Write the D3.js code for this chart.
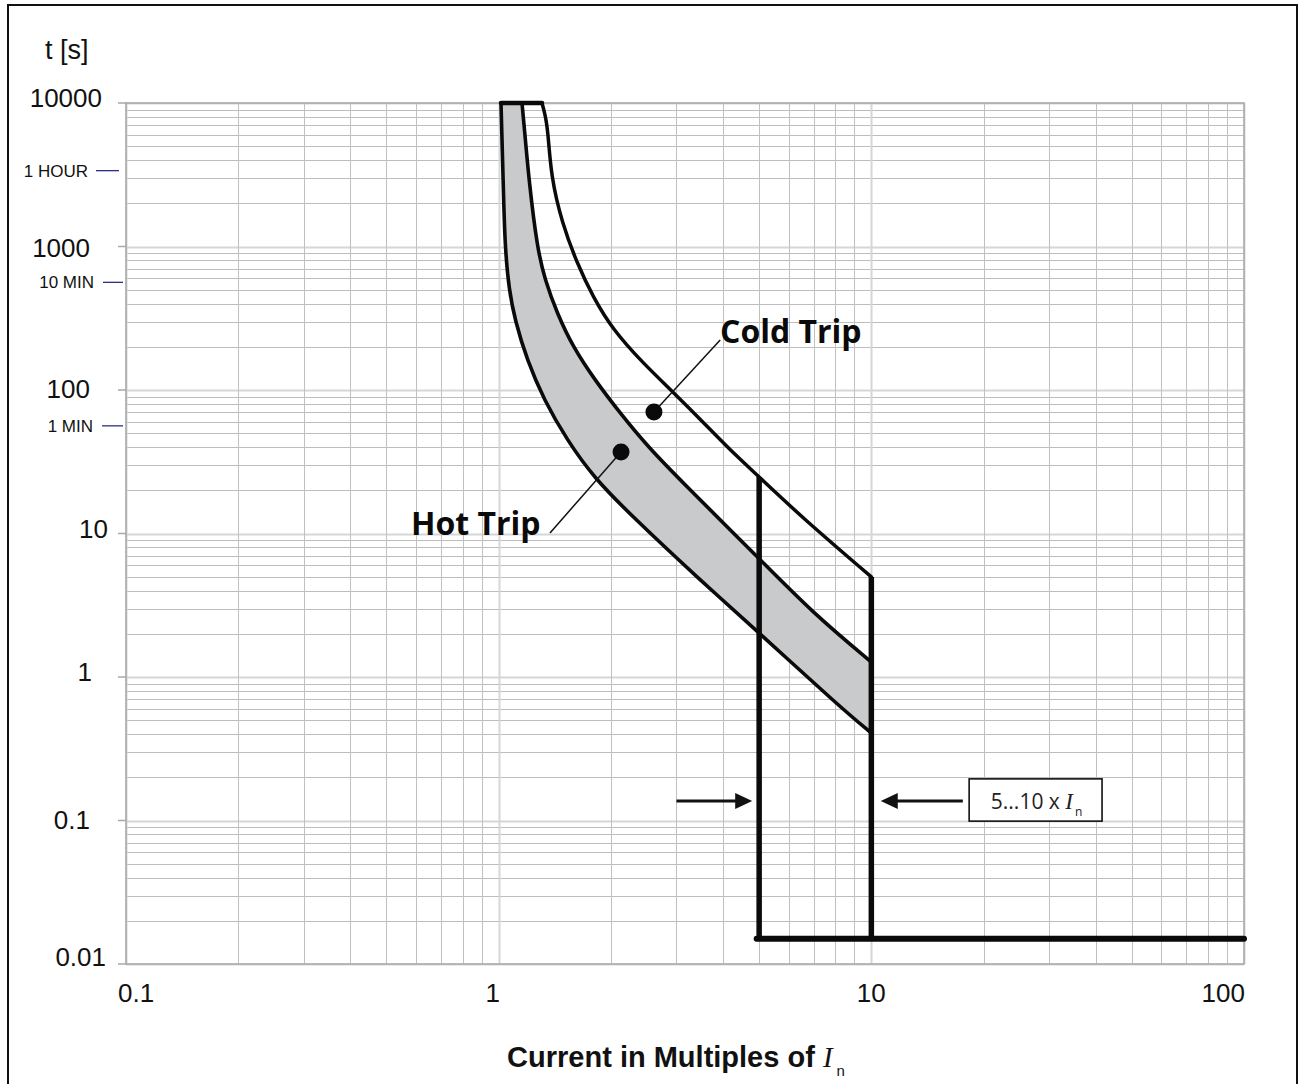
<!DOCTYPE html>
<html>
<head>
<meta charset="utf-8">
<script src="https://cdn.jsdelivr.net/npm/d3@7"></script>
<style>
  html, body { margin: 0; padding: 0; background: #fff; }
  svg { display: block; }
</style>
</head>
<body>
<svg id="chart" width="1302" height="1084"></svg>
<script>
// ---------------- DATA ----------------
const xTickValues = [0.1, 1, 10, 100];
const xTickLabels = ["0.1", "1", "10", "100"];
const yTickValues = [10000, 1000, 100, 10, 1, 0.1, 0.01];
const yTickLabels = ["10000", "1000", "100", "10", "1", "0.1", "0.01"];
const timeMarkValues = [3600, 600, 60];
const timeMarkLabels = ["1 HOUR", "10 MIN", "1 MIN"];

// Hot trip – lower (left) boundary of the grey band  [multiple of In, seconds]
const hotLowerX = [1.0145, 1.022, 1.030, 1.040, 1.066, 1.106, 1.191, 1.323, 1.526, 1.80, 2.293, 3.47, 5, 8.24, 10];
const hotLowerT = [10000, 5000, 2400, 992, 498, 307, 162, 85.2, 44.8, 24.5, 13.0, 4.74, 2.03, 0.618, 0.407];
// Hot trip – upper (right) boundary of the grey band
const hotUpperX = [1.155, 1.18, 1.206, 1.267, 1.331, 1.434, 1.583, 1.813, 2.116, 2.516, 3.124, 5, 6.97, 10];
const hotUpperT = [10000, 5500, 2906, 992, 584, 344, 199, 117, 69.2, 40.1, 22.5, 6.7, 2.79, 1.27];
// Cold trip curve
const coldX = [1.307, 1.330, 1.356, 1.382, 1.479, 1.622, 1.791, 2.027, 2.439, 2.937, 3.535, 4.175, 5, 6.44, 10];
const coldT = [10000, 8500, 6483, 3050, 1458, 767, 445, 262, 154, 96.8, 59.8, 38.2, 24.8, 13.3, 4.98];

// Instantaneous trip region (5...10 x In) and minimum trip time
const instLowX = 5;
const instHighX = 10;
const instTopLowT = 24.8;
const instTopHighT = 4.98;
const minTripT = 0.015;
const maxCurrent = 100;

// Annotations (data space)
const coldDot = [2.61, 70.3], coldLeaderEnd = [3.93, 223];
const hotDot = [2.13, 37.0], hotLeaderEnd = [1.373, 10.08];
const arrowY = 0.137;
const leftArrow = [3.0, 4.79];   // tail, tip
const rightArrow = [17.6, 10.6]; // tail, tip
const boxX = [18.3, 41.6], boxT = [0.195, 0.099];

// ---------------- CHART ----------------
const svg = d3.select("#chart");
const x = d3.scaleLog().domain([0.1, 100]).range([126, 1244]);
const y = d3.scaleLog().domain([0.01, 10000]).range([964, 103]);

// outer frame
svg.append("rect").attr("x", 8).attr("y", 5).attr("width", 1289).attr("height", 1080)
  .attr("fill", "none").attr("stroke", "#111").attr("stroke-width", 2);

// grid
const gridG = svg.append("g");
const xGrid = [];
for (let e = -1; e < 2; e++) for (let k = 1; k <= 9; k++) xGrid.push(k * Math.pow(10, e));
xGrid.push(100);
const yGrid = [];
for (let e = -2; e < 4; e++) for (let k = 1; k <= 9; k++) yGrid.push(k * Math.pow(10, e));
yGrid.push(10000);
const isDecade = v => Math.abs(Math.log10(v) - Math.round(Math.log10(v))) < 1e-9;

gridG.selectAll("line.yg").data(yGrid).join("line")
  .attr("x1", x(0.1)).attr("x2", x(100))
  .attr("y1", d => Math.round(y(d)) + 0.5).attr("y2", d => Math.round(y(d)) + 0.5)
  .attr("stroke", d => isDecade(d) ? "#d6d6d6" : "#bdbdbd")
  .attr("stroke-width", d => isDecade(d) ? 2 : 1);
gridG.selectAll("line.xg").data(xGrid).join("line")
  .attr("y1", y(10000)).attr("y2", y(0.01))
  .attr("x1", d => Math.round(x(d)) + 0.5).attr("x2", d => Math.round(x(d)) + 0.5)
  .attr("stroke", d => isDecade(d) ? "#d6d6d6" : "#c0c0c0")
  .attr("stroke-width", d => isDecade(d) ? 2 : 1);

// plot border
svg.append("rect").attr("x", x(0.1)).attr("y", y(10000))
  .attr("width", x(100) - x(0.1)).attr("height", y(0.01) - y(10000))
  .attr("fill", "none").attr("stroke", "#a8a8a8").attr("stroke-width", 1.5);

// y major ticks extending left
svg.selectAll("line.ytick").data(yTickValues).join("line")
  .attr("x1", x(0.1) - 8).attr("x2", x(0.1))
  .attr("y1", d => y(d)).attr("y2", d => y(d))
  .attr("stroke", "#a8a8a8").attr("stroke-width", 1.5);

// y tick labels (individual placement as in the original)
const yLabelPos = { "10000": [102, -5], "1000": [90, 1], "100": [90, -1], "10": [108, -5], "1": [92, -5], "0.1": [90, -1], "0.01": [106, -7] };
svg.selectAll("text.ylab").data(yTickValues).join("text")
  .attr("x", (d, i) => yLabelPos[yTickLabels[i]][0])
  .attr("y", (d, i) => y(d) + yLabelPos[yTickLabels[i]][1])
  .attr("dy", "0.35em")
  .attr("text-anchor", "end")
  .attr("font-family", "Liberation Sans, Arial, sans-serif")
  .attr("font-size", 26).attr("fill", "#111")
  .text((d, i) => yTickLabels[i]);

// x tick labels
const xLabelAnchor = ["start", "middle", "middle", "end"];
const xLabelDx = [-8, -6, 0, 1];
svg.selectAll("text.xlab").data(xTickValues).join("text")
  .attr("x", (d, i) => x(d) + xLabelDx[i])
  .attr("y", 1002)
  .attr("text-anchor", (d, i) => xLabelAnchor[i])
  .attr("font-family", "Liberation Sans, Arial, sans-serif")
  .attr("font-size", 26).attr("fill", "#111")
  .text((d, i) => xTickLabels[i]);

// time marks
const timeLabelRight = [88, 94, 93];
const timeTickX = [[96, 119], [103, 123], [102, 123]];
svg.selectAll("line.tm").data(timeMarkValues).join("line")
  .attr("x1", (d, i) => timeTickX[i][0]).attr("x2", (d, i) => timeTickX[i][1])
  .attr("y1", d => y(d) + 4).attr("y2", d => y(d) + 4)
  .attr("stroke", "#2b3284").attr("stroke-width", 1.3);
svg.selectAll("text.tm").data(timeMarkValues).join("text")
  .attr("x", (d, i) => timeLabelRight[i])
  .attr("y", d => y(d) + 4).attr("dy", "0.35em")
  .attr("text-anchor", "end")
  .attr("font-family", "Liberation Sans, Arial, sans-serif")
  .attr("font-size", 17).attr("fill", "#111")
  .text((d, i) => timeMarkLabels[i]);

// axis titles
svg.append("text").attr("x", 45).attr("y", 59)
  .attr("font-family", "Liberation Sans, Arial, sans-serif")
  .attr("font-size", 27).attr("fill", "#111").text("t [s]");

const xt = svg.append("text").attr("x", 676).attr("y", 1067).attr("text-anchor", "middle")
  .attr("font-family", "Liberation Sans, Arial, sans-serif").attr("fill", "#111");
xt.append("tspan").attr("font-weight", "bold").attr("font-size", 29).text("Current in Multiples of ");
xt.append("tspan").attr("font-family", "Liberation Serif, Times New Roman, serif").attr("font-style", "italic").attr("font-size", 29).text("I");
xt.append("tspan").attr("font-size", 15).attr("dy", 9).attr("dx", 4).text("n");

// ---------------- CURVES ----------------
const pts = (xs, ts) => xs.map((v, i) => [x(v), y(ts[i])]);
const lower = pts(hotLowerX, hotLowerT);
const upper = pts(hotUpperX, hotUpperT);
const cold = pts(coldX, coldT);
const smooth = d3.line().curve(d3.curveBasis);

// grey band
const bandPath = smooth(lower) + "L" + smooth(upper.slice().reverse()).slice(1) + "Z";
svg.append("path").attr("d", bandPath).attr("fill", "#c9cacc").attr("stroke", "none");

const curveG = svg.append("g").attr("fill", "none").attr("stroke", "#0a0a0a")
  .attr("stroke-linejoin", "round").attr("stroke-linecap", "round");
curveG.append("path").attr("d", smooth(lower)).attr("stroke-width", 3.6);
curveG.append("path").attr("d", smooth(upper)).attr("stroke-width", 3.6);
curveG.append("path").attr("d", smooth(cold)).attr("stroke-width", 3.5);
// top cap at 10000
curveG.append("line")
  .attr("x1", x(hotLowerX[0])).attr("x2", x(coldX[0]))
  .attr("y1", y(10000)).attr("y2", y(10000)).attr("stroke-width", 4.5);

// instantaneous region
curveG.append("line").attr("x1", x(instLowX)).attr("x2", x(instLowX))
  .attr("y1", y(instTopLowT)).attr("y2", y(minTripT)).attr("stroke-width", 5.5).attr("stroke-linecap", "butt");
curveG.append("line").attr("x1", x(instHighX)).attr("x2", x(instHighX))
  .attr("y1", y(instTopHighT)).attr("y2", y(minTripT)).attr("stroke-width", 5.5).attr("stroke-linecap", "butt");
curveG.append("line").attr("x1", x(instLowX) - 2.5).attr("x2", x(maxCurrent))
  .attr("y1", y(minTripT)).attr("y2", y(minTripT)).attr("stroke-width", 6);

// ---------------- ANNOTATIONS ----------------
const ann = svg.append("g");
ann.append("line").attr("x1", x(coldDot[0])).attr("y1", y(coldDot[1]))
  .attr("x2", x(coldLeaderEnd[0])).attr("y2", y(coldLeaderEnd[1])).attr("stroke", "#111").attr("stroke-width", 1.5);
ann.append("line").attr("x1", x(hotDot[0])).attr("y1", y(hotDot[1]))
  .attr("x2", x(hotLeaderEnd[0])).attr("y2", y(hotLeaderEnd[1])).attr("stroke", "#111").attr("stroke-width", 1.5);
ann.selectAll("circle").data([coldDot, hotDot]).join("circle")
  .attr("cx", d => x(d[0])).attr("cy", d => y(d[1])).attr("r", 8.5).attr("fill", "#0a0a0a");

ann.append("text").attr("x", 720).attr("y", 343)
  .attr("font-family", "Open Sans, sans-serif").attr("font-weight", "bold")
  .attr("font-size", 32).attr("letter-spacing", 0).attr("fill", "#0a0a0a").text("Cold Trip");
ann.append("text").attr("x", 411).attr("y", 535)
  .attr("font-family", "Open Sans, sans-serif").attr("font-weight", "bold")
  .attr("font-size", 32).attr("letter-spacing", 0).attr("fill", "#0a0a0a").text("Hot Trip");

// arrows
function arrow(x0, x1, yy) {
  const dir = Math.sign(x1 - x0);
  const head = 17;
  ann.append("line").attr("x1", x0).attr("x2", x1 - dir * head + dir * 2).attr("y1", yy).attr("y2", yy)
    .attr("stroke", "#111").attr("stroke-width", 3);
  ann.append("path")
    .attr("d", `M${x1},${yy} L${x1 - dir * head},${yy - 8} L${x1 - dir * head},${yy + 8} Z`)
    .attr("fill", "#111");
}
arrow(x(leftArrow[0]), x(leftArrow[1]), y(arrowY));
arrow(x(rightArrow[0]), x(rightArrow[1]), y(arrowY));

// label box
ann.append("rect").attr("x", x(boxX[0])).attr("y", y(boxT[0]))
  .attr("width", x(boxX[1]) - x(boxX[0])).attr("height", y(boxT[1]) - y(boxT[0]))
  .attr("fill", "#fff").attr("stroke", "#111").attr("stroke-width", 1.6);
const bt = ann.append("text").attr("x", (x(boxX[0]) + x(boxX[1])) / 2 + 1).attr("y", 809)
  .attr("text-anchor", "middle").attr("font-family", "Open Sans, sans-serif").attr("fill", "#222");
bt.append("tspan").attr("font-size", 21).text("5...10 x ");
bt.append("tspan").attr("font-family", "Liberation Serif, serif").attr("font-style", "italic").attr("font-size", 23).text("I");
bt.append("tspan").attr("font-size", 12).attr("dy", 7).attr("dx", 2).text("n");
</script>
</body>
</html>
